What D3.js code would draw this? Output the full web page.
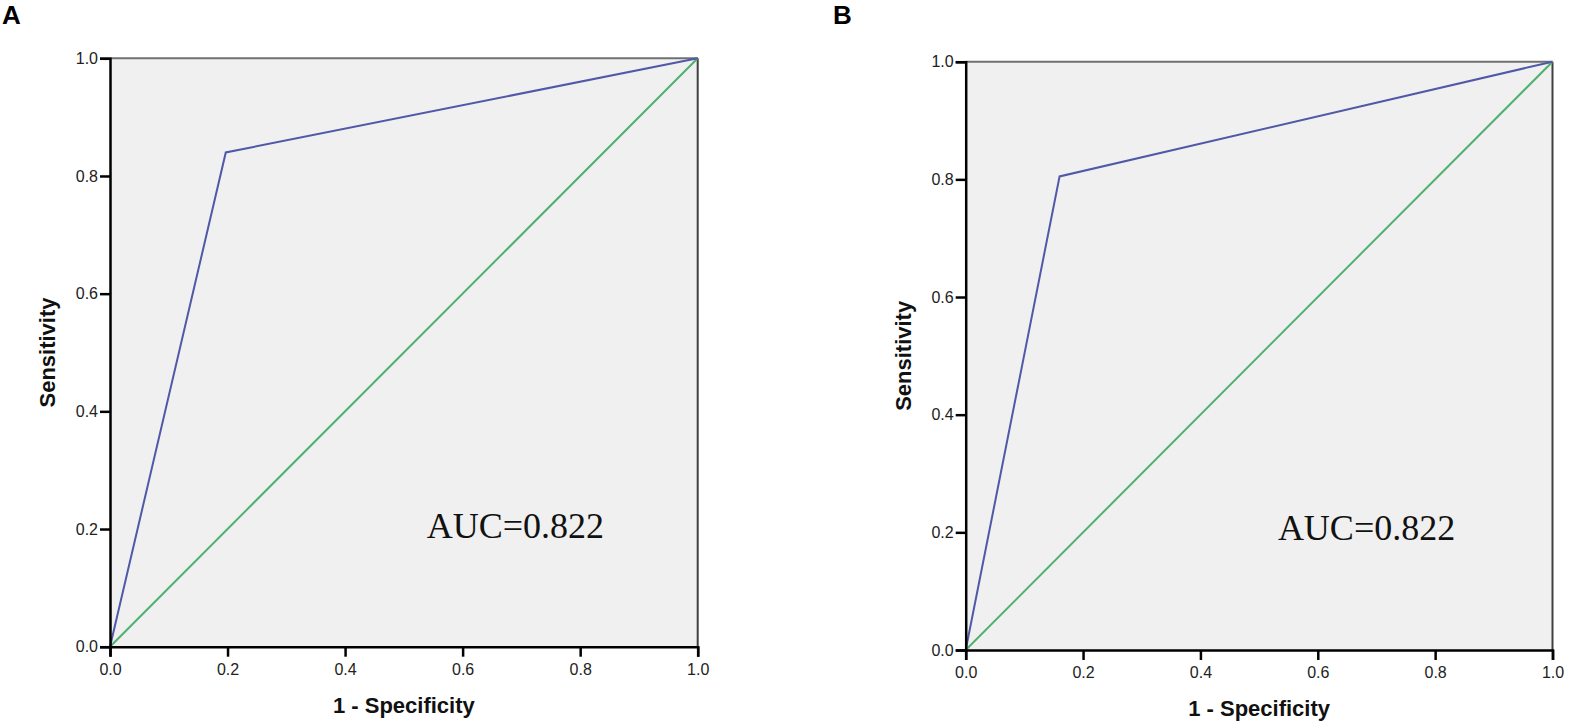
<!DOCTYPE html>
<html>
<head>
<meta charset="utf-8">
<script src="https://cdn.jsdelivr.net/npm/d3@7"></script>
<style>
  body { margin: 0; background: #fff; }
  svg { display: block; }
</style>
</head>
<body>
<div id="chart"></div>
<script>
const width = 1573;
const height = 726;

// ROC points (1 - specificity, sensitivity)
const panelLabels = ["A", "B"];
const rocX_A = [0, 0.197, 1];
const rocY_A = [0, 0.840, 1];
const rocX_B = [0, 0.160, 1];
const rocY_B = [0, 0.805, 1];
const refX = [0, 1];
const refY = [0, 1];
const aucLabels = ["AUC=0.822", "AUC=0.822"];
const aucPos = [[0.539, 0.185], [0.532, 0.187]];
const tickValues = [0, 0.2, 0.4, 0.6, 0.8, 1.0];

const panels = [
  {label: panelLabels[0], xs: rocX_A, ys: rocY_A, auc: aucLabels[0], aucAt: aucPos[0],
   box: {left: 110, right: 697.7, top: 58.3, bottom: 646.7}, labelX: 2},
  {label: panelLabels[1], xs: rocX_B, ys: rocY_B, auc: aucLabels[1], aucAt: aucPos[1],
   box: {left: 965.7, right: 1552.5, top: 61.7, bottom: 650}, labelX: 833}
];

const svg = d3.select("#chart")
    .append("svg")
    .attr("width", width)
    .attr("height", height);

panels.forEach(p => {
  const x = d3.scaleLinear().domain([0, 1]).range([p.box.left, p.box.right]);
  const y = d3.scaleLinear().domain([0, 1]).range([p.box.bottom, p.box.top]);
  const g = svg.append("g");

  // panel letter
  svg.append("text")
      .attr("x", p.labelX)
      .attr("y", 24)
      .style("font-family", "Liberation Sans, Arial, sans-serif")
      .style("font-weight", "bold")
      .style("font-size", "26px")
      .attr("fill", "#000")
      .text(p.label);

  // plot background
  g.append("rect")
      .attr("x", x(0))
      .attr("y", y(1))
      .attr("width", x(1) - x(0))
      .attr("height", y(0) - y(1))
      .attr("fill", "#f0f0f0");

  // top and right frame
  g.append("line")
      .attr("x1", x(0)).attr("x2", x(1))
      .attr("y1", y(1)).attr("y2", y(1))
      .attr("stroke", "#707070").attr("stroke-width", 2);
  g.append("line")
      .attr("x1", x(1)).attr("x2", x(1))
      .attr("y1", y(1)).attr("y2", y(0))
      .attr("stroke", "#404040").attr("stroke-width", 2);

  // reference diagonal
  const line = d3.line().x(d => x(d[0])).y(d => y(d[1]));
  g.append("path")
      .datum(d3.zip(refX, refY))
      .attr("d", line)
      .attr("fill", "none")
      .attr("stroke", "#50b070")
      .attr("stroke-width", 2);

  // ROC curve
  g.append("path")
      .datum(d3.zip(p.xs, p.ys))
      .attr("d", line)
      .attr("fill", "none")
      .attr("stroke", "#5058a8")
      .attr("stroke-width", 2);

  // axes
  const xAxis = g.append("g")
      .attr("transform", `translate(0,${y(0)})`)
      .call(d3.axisBottom(x).tickValues(tickValues).tickFormat(d3.format(".1f"))
        .tickSize(10).tickPadding(7));
  const yAxis = g.append("g")
      .attr("transform", `translate(${x(0)},0)`)
      .call(d3.axisLeft(y).tickValues(tickValues).tickFormat(d3.format(".1f"))
        .tickSize(10).tickPadding(2));

  [xAxis, yAxis].forEach(a => {
    a.select(".domain").attr("stroke", "#000").attr("stroke-width", 2.5);
    a.selectAll(".tick line").attr("stroke", "#000").attr("stroke-width", 2.5);
    a.selectAll(".tick text")
        .style("font-family", "Liberation Sans, Arial, sans-serif")
        .style("font-size", "16px")
        .attr("fill", "#222");
  });

  // axis titles
  g.append("text")
      .attr("x", (x(0) + x(1)) / 2)
      .attr("y", y(0) + 66)
      .attr("text-anchor", "middle")
      .style("font-family", "Liberation Sans, Arial, sans-serif")
      .style("font-weight", "bold")
      .style("font-size", "22px")
      .attr("fill", "#111")
      .text("1 - Specificity");

  g.append("text")
      .attr("transform", `translate(${x(0) - 55},${(y(0) + y(1)) / 2}) rotate(-90)`)
      .attr("text-anchor", "middle")
      .style("font-family", "Liberation Sans, Arial, sans-serif")
      .style("font-weight", "bold")
      .style("font-size", "22px")
      .attr("fill", "#111")
      .text("Sensitivity");

  // AUC annotation
  g.append("text")
      .attr("x", x(p.aucAt[0]))
      .attr("y", y(p.aucAt[1]))
      .style("font-family", "Liberation Serif, Times New Roman, serif")
      .style("font-size", "36px")
      .attr("fill", "#111")
      .text(p.auc);
});
</script>
</body>
</html>
